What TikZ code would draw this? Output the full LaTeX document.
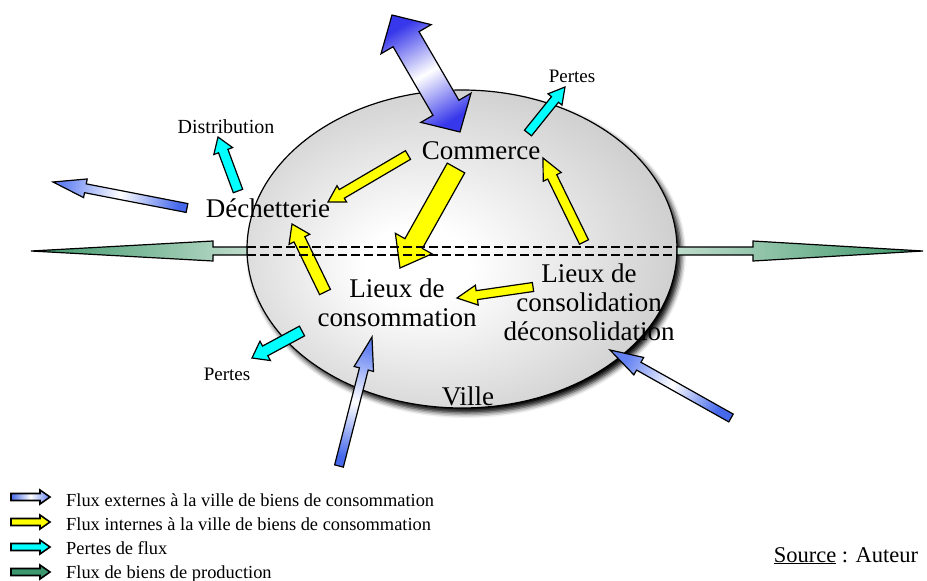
\documentclass[tikz,border=0pt]{standalone}
\usepackage{fontspec}
\setmainfont{Liberation Serif}
\usetikzlibrary{calc,shapes.geometric,shadows.blur}

\definecolor{bleuext}{RGB}{70,105,235}
\definecolor{bleuclair}{RGB}{100,130,242}
\definecolor{bleufort}{RGB}{55,55,235}
\definecolor{vertfonce}{RGB}{60,150,105}
\definecolor{vertclair}{RGB}{190,220,203}
\definecolor{vertlegende}{RGB}{60,150,110}
\definecolor{jaune}{RGB}{255,255,0}
\definecolor{turquoise}{RGB}{0,255,255}

\pgfdeclareradialshading{ville}{\pgfpoint{-6bp}{-3bp}}{%
  color(0bp)=(white); color(6bp)=(white); color(34bp)=(black!24); color(50bp)=(black!24)}

% flèche pleine : [style]{départ}{pointe}{demi-corps}{demi-tête}{longueur de la tête}
\newcommand\flux[6][]{%
  \pgfmathanglebetweenpoints{\pgfpointanchor{#2}{center}}{\pgfpointanchor{#3}{center}}%
  \pgfmathsetmacro\fluxangle{\pgfmathresult+90}%
  \coordinate (fb) at ($(#3)!#6!(#2)$);
  \path[draw,#1]
    ($(#2)!#4!-90:(#3)$) -- ($(fb)!#4!-90:(#3)$) -- ($(fb)!#5!-90:(#3)$) -- (#3)
    -- ($(fb)!#5!90:(#3)$) -- ($(fb)!#4!90:(#3)$) -- ($(#2)!#4!90:(#3)$) -- cycle;
}
% flèche double, mêmes arguments
\newcommand\fluxdouble[6][]{%
  \pgfmathanglebetweenpoints{\pgfpointanchor{#2}{center}}{\pgfpointanchor{#3}{center}}%
  \pgfmathsetmacro\fluxangle{\pgfmathresult+90}%
  \coordinate (fa) at ($(#2)!#6!(#3)$);
  \coordinate (fb) at ($(#3)!#6!(#2)$);
  \path[draw,#1]
    (#2) -- ($(fa)!#5!90:(#3)$) -- ($(fa)!#4!90:(#3)$) -- ($(fb)!#4!90:(#3)$)
    -- ($(fb)!#5!90:(#3)$) -- (#3) -- ($(fb)!#5!-90:(#3)$) -- ($(fb)!#4!-90:(#3)$)
    -- ($(fa)!#4!-90:(#3)$) -- ($(fa)!#5!-90:(#3)$) -- cycle;
}

\begin{document}
\begin{tikzpicture}[x=1pt,y=-1pt]
  % définition des styles
  \tikzstyle{lieu}=[font=\fontsize{27}{29}\selectfont,align=center,inner sep=0pt]
  \tikzstyle{note}=[font=\fontsize{19}{21}\selectfont,inner sep=0pt]
  \tikzstyle{legende}=[font=\fontsize{18.4}{20}\selectfont,inner sep=0pt,anchor=base west]
  \tikzstyle{interne}=[fill=jaune,line width=1.2pt]
  \tikzstyle{perte}=[fill=turquoise,line width=1.2pt]
  \tikzstyle{externe}=[left color=bleuext,right color=bleuclair,middle color=white,
    shading angle=\fluxangle,line width=1.2pt]
  \tikzstyle{echange}=[left color=bleufort,right color=bleufort,middle color=white,
    shading angle=\fluxangle,line width=1.2pt]
  \tikzstyle{production}=[left color=vertclair,right color=vertfonce,
    shading angle=\fluxangle,line width=1.2pt]
  \tikzstyle{pointille}=[line width=1.2pt,dash pattern=on 9pt off 4pt]
  \useasboundingbox (0,0) rectangle (927,581);
  % la ville
  \node[ellipse,draw,line width=1.2pt,inner sep=0pt,minimum width=430pt,minimum height=318pt,
    shading=ville,blur shadow={shadow xshift=4pt,shadow yshift=-5pt,shadow blur radius=5pt,shadow opacity=100}]
    (cite) at (462,249) {};
  % les lieux
  \node[lieu] (commerce) at (481,151) {Commerce};
  \node[lieu] (dechet) at (268,208) {Déchetterie};
  \node[lieu] (conso) at (397,303) {Lieux de\\consommation};
  \node[lieu] (consol) at (589,302) {Lieux de\\consolidation\\déconsolidation};
  \node[lieu] (ville) at (468,396) {Ville};
  \node[note] (distrib) at (226,127) {\fontsize{20}{22}\selectfont Distribution};
  \node[note] (pertesH) at (572,76) {Pertes};
  \node[note] (pertesB) at (227,374) {Pertes};
  % les extrémités des flux
  \coordinate (echA) at (392,15);     \coordinate (echB) at (460,132);
  \coordinate (comDecA) at (408,155); \coordinate (comDecB) at (328,202);
  \coordinate (comConA) at (456,168); \coordinate (comConB) at (400,268);
  \coordinate (solComA) at (584,242); \coordinate (solComB) at (543,158);
  \coordinate (comPerA) at (528,133); \coordinate (comPerB) at (565,87);
  \coordinate (solConA) at (533,287); \coordinate (solConB) at (457,298);
  \coordinate (conDecA) at (325,292); \coordinate (conDecB) at (292,224);
  \coordinate (decDisA) at (238,191); \coordinate (decDisB) at (218,137);
  \coordinate (decExtA) at (187,208); \coordinate (decExtB) at (53,182);
  \coordinate (conPerA) at (302,331); \coordinate (conPerB) at (252,358);
  \coordinate (extConA) at (339,466); \coordinate (extConB) at (372,337);
  \coordinate (extSolA) at (731,418); \coordinate (extSolB) at (610,350);
  \coordinate (prodGA) at (247,251);  \coordinate (prodGB) at (31,251);
  \coordinate (prodDA) at (677,251);  \coordinate (prodDB) at (923,251);
  % les flèches
  \fluxdouble[echange]{echA}{echB}{15pt}{29pt}{28pt}
  \flux[interne]{comDecA}{comDecB}{5pt}{9.5pt}{16pt}
  \flux[interne]{comConA}{comConB}{10pt}{21pt}{28pt}
  \flux[interne]{solComA}{solComB}{5pt}{10pt}{21pt}
  \flux[interne]{solConA}{solConB}{4.5pt}{10pt}{20pt}
  \flux[interne]{conDecA}{conDecB}{6pt}{11.5pt}{17pt}
  \flux[perte]{comPerA}{comPerB}{4.5pt}{9pt}{16pt}
  \flux[perte]{decDisA}{decDisB}{5pt}{10pt}{15pt}
  \flux[perte]{conPerA}{conPerB}{5.5pt}{11pt}{15pt}
  \flux[externe]{decExtA}{decExtB}{4.5pt}{9.5pt}{33pt}
  \flux[externe]{extConA}{extConB}{4.5pt}{10pt}{33pt}
  \flux[externe]{extSolA}{extSolB}{4.5pt}{10pt}{33pt}
  \flux[production]{prodGA}{prodGB}{4pt}{10pt}{182pt}
  \flux[production]{prodDA}{prodDB}{4pt}{10pt}{170pt}
  \draw[pointille] ([yshift=4pt]prodGA) -- ([yshift=4pt]prodDA);
  \draw[pointille] ([yshift=-4pt]prodGA) -- ([yshift=-4pt]prodDA);
  % la légende
  \coordinate (leg1a) at (11,497); \coordinate (leg1b) at (50,497);
  \coordinate (leg2a) at (11,522); \coordinate (leg2b) at (50,522);
  \coordinate (leg3a) at (11,547); \coordinate (leg3b) at (50,547);
  \coordinate (leg4a) at (11,572); \coordinate (leg4b) at (50,572);
  \flux[externe,line width=1.6pt]{leg1a}{leg1b}{3.5pt}{7pt}{10pt}
  \flux[interne,line width=1.6pt]{leg2a}{leg2b}{3.5pt}{7pt}{10pt}
  \flux[perte,line width=1.6pt]{leg3a}{leg3b}{3.5pt}{7pt}{10pt}
  \flux[fill=vertlegende,line width=1.6pt]{leg4a}{leg4b}{3.5pt}{7pt}{10pt}
  \node[legende] (txt1) at (66,506) {Flux externes à la ville de biens de consommation};
  \node[legende] (txt2) at (66,530) {Flux internes à la ville de biens de consommation};
  \node[legende] (txt3) at (66,554) {Pertes de flux};
  \node[legende] (txt4) at (66,578) {Flux de biens de production};
  \node[font=\fontsize{22.5}{24}\selectfont,inner sep=0pt,anchor=base] (source) at (846,562)
    {\underline{Source} : Auteur};
\end{tikzpicture}
\end{document}
